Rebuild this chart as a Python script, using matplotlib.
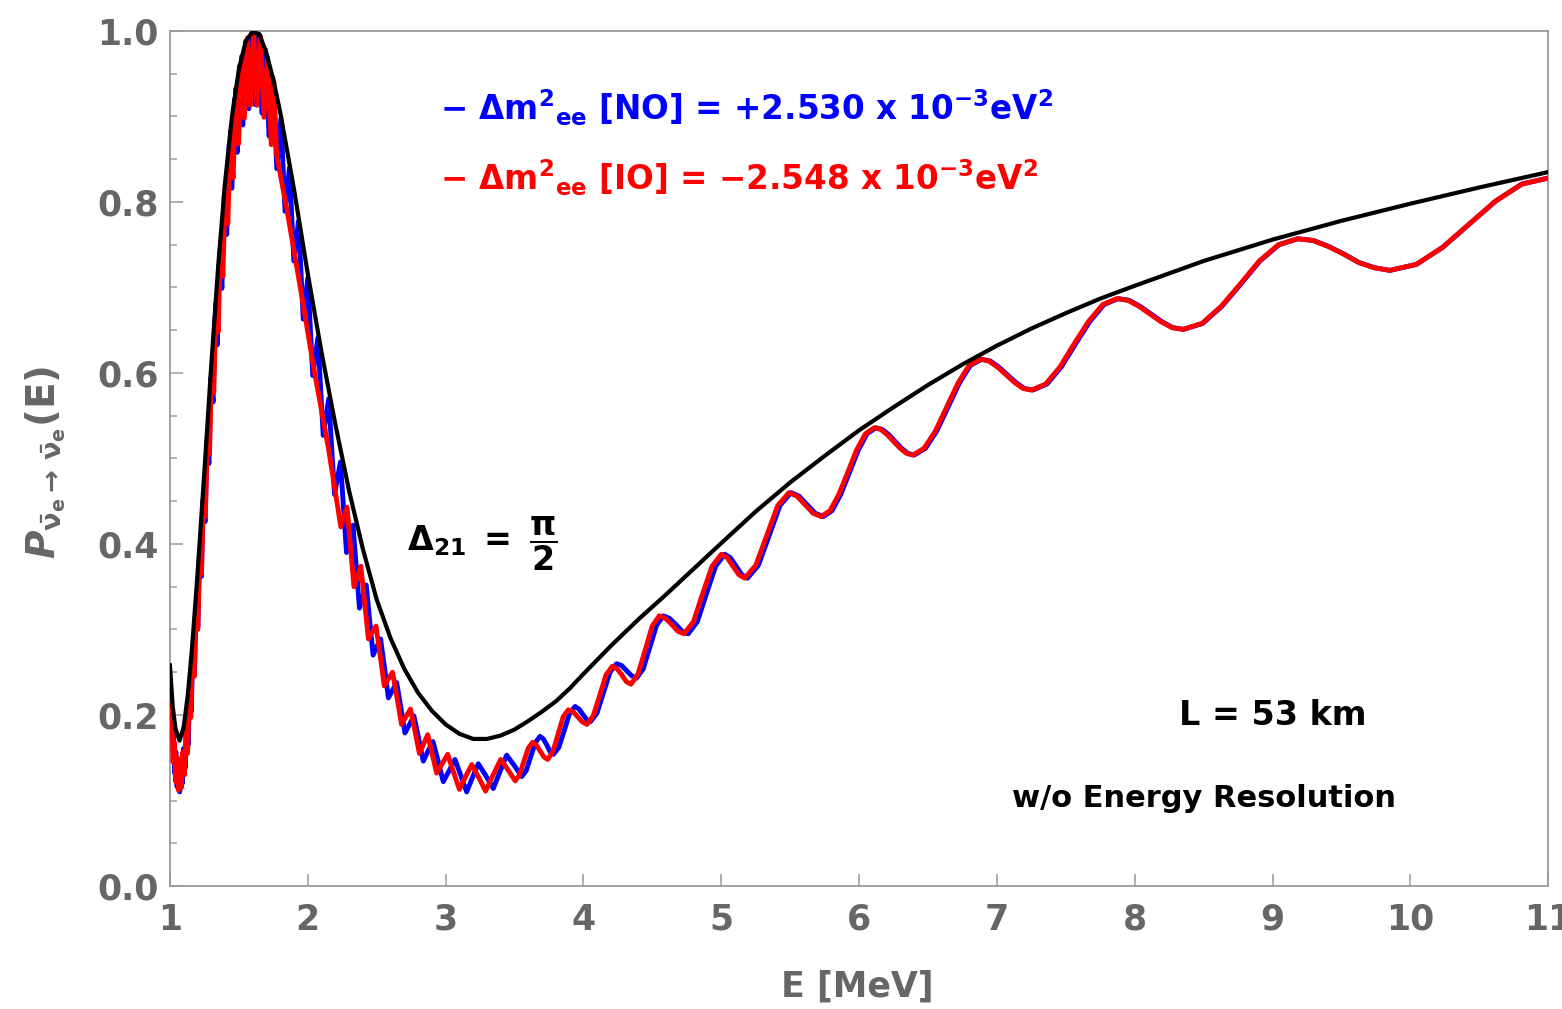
import matplotlib
matplotlib.use("Agg")
import matplotlib.pyplot as plt
from matplotlib.ticker import MultipleLocator

# black curve (no theta13 fast oscillation)
E_black = [1.00, 1.02, 1.04, 1.07, 1.10, 1.13, 1.16, 1.20, 1.25, 1.30, 1.35, 1.40,
           1.45, 1.50, 1.55, 1.60, 1.65, 1.70, 1.75, 1.80, 1.90, 2.00, 2.10, 2.20,
           2.30, 2.40, 2.50, 2.60, 2.70, 2.80, 2.90, 3.00, 3.10, 3.20, 3.30, 3.40,
           3.50, 3.60, 3.70, 3.80, 3.90, 4.00, 4.20, 4.40, 4.60, 4.80, 5.00, 5.25,
           5.50, 5.75, 6.00, 6.25, 6.50, 6.75, 7.00, 7.25, 7.50, 7.75, 8.00, 8.50,
           9.00, 9.50, 10.00, 10.50, 11.00]
P_black = [0.258, 0.210, 0.184, 0.170, 0.186, 0.224, 0.278, 0.365, 0.485, 0.610, 0.725, 0.823,
           0.900, 0.955, 0.988, 0.999, 0.996, 0.974, 0.943, 0.905, 0.815, 0.716, 0.624, 0.540,
           0.462, 0.394, 0.335, 0.290, 0.254, 0.226, 0.205, 0.189, 0.178, 0.172, 0.172, 0.176,
           0.183, 0.193, 0.204, 0.216, 0.231, 0.248, 0.281, 0.312, 0.341, 0.371, 0.401, 0.438,
           0.472, 0.503, 0.533, 0.560, 0.586, 0.610, 0.632, 0.652, 0.670, 0.687, 0.702, 0.731,
           0.756, 0.778, 0.798, 0.817, 0.835]

# inverted ordering (red)
E_io = [1.000, 1.004, 1.013, 1.023, 1.032, 1.042, 1.052, 1.062, 1.072, 1.083, 1.094, 1.105,
        1.116, 1.128, 1.139, 1.151, 1.163, 1.176, 1.189, 1.202, 1.215, 1.229, 1.243, 1.257,
        1.272, 1.287, 1.302, 1.318, 1.334, 1.350, 1.367, 1.384, 1.402, 1.420, 1.439, 1.458,
        1.478, 1.498, 1.519, 1.540, 1.562, 1.584, 1.607, 1.631, 1.656, 1.682, 1.708, 1.735,
        1.755, 1.774, 1.850, 1.950, 2.050, 2.150, 2.240, 2.285, 2.335, 2.385, 2.440, 2.468,
        2.495, 2.525, 2.555, 2.585, 2.615, 2.648, 2.680, 2.712, 2.745, 2.778, 2.810, 2.840,
        2.870, 2.902, 2.935, 2.975, 3.015, 3.058, 3.100, 3.145, 3.190, 3.240, 3.290, 3.345,
        3.400, 3.452, 3.505, 3.536, 3.568, 3.599, 3.630, 3.658, 3.685, 3.713, 3.740, 3.778,
        3.815, 3.853, 3.890, 3.924, 3.958, 3.991, 4.025, 4.071, 4.118, 4.164, 4.210, 4.244,
        4.278, 4.311, 4.345, 4.396, 4.448, 4.499, 4.550, 4.595, 4.640, 4.685, 4.730, 4.798,
        4.865, 4.933, 5.000, 5.043, 5.085, 5.128, 5.170, 5.250, 5.330, 5.410, 5.490, 5.549,
        5.608, 5.666, 5.725, 5.789, 5.853, 5.918, 5.982, 6.046, 6.110, 6.157, 6.203, 6.250,
        6.297, 6.343, 6.390, 6.472, 6.553, 6.635, 6.717, 6.798, 6.880, 6.942, 7.003, 7.065,
        7.127, 7.188, 7.250, 7.353, 7.457, 7.560, 7.663, 7.767, 7.870, 7.950, 8.030, 8.110,
        8.190, 8.270, 8.350, 8.488, 8.627, 8.765, 8.903, 9.042, 9.180, 9.292, 9.403, 9.515,
        9.627, 9.738, 9.850, 10.042, 10.233, 10.425, 10.617, 10.808, 11.000]
P_io = [0.212, 0.190, 0.203, 0.145, 0.168, 0.122, 0.151, 0.112, 0.145, 0.115, 0.157, 0.130,
        0.180, 0.155, 0.222, 0.197, 0.268, 0.245, 0.322, 0.300, 0.386, 0.365, 0.455, 0.432,
        0.528, 0.505, 0.605, 0.577, 0.682, 0.648, 0.755, 0.713, 0.822, 0.775, 0.883, 0.828,
        0.933, 0.868, 0.970, 0.898, 0.992, 0.913, 0.999, 0.913, 0.994, 0.899, 0.969, 0.867,
        0.940, 0.855, 0.790, 0.696, 0.600, 0.512, 0.420, 0.443, 0.350, 0.374, 0.289, 0.297,
        0.304, 0.270, 0.234, 0.242, 0.250, 0.220, 0.189, 0.198, 0.207, 0.181, 0.155, 0.166,
        0.177, 0.155, 0.132, 0.143, 0.154, 0.133, 0.113, 0.128, 0.142, 0.127, 0.111, 0.130,
        0.148, 0.136, 0.123, 0.130, 0.146, 0.161, 0.168, 0.165, 0.158, 0.151, 0.148, 0.157,
        0.177, 0.198, 0.206, 0.204, 0.198, 0.192, 0.189, 0.199, 0.223, 0.247, 0.257, 0.254,
        0.247, 0.239, 0.236, 0.248, 0.276, 0.304, 0.316, 0.313, 0.306, 0.298, 0.295, 0.309,
        0.342, 0.374, 0.388, 0.384, 0.374, 0.364, 0.360, 0.375, 0.410, 0.445, 0.460, 0.456,
        0.446, 0.436, 0.432, 0.439, 0.458, 0.484, 0.510, 0.529, 0.536, 0.534, 0.528, 0.520,
        0.512, 0.506, 0.504, 0.512, 0.532, 0.560, 0.588, 0.609, 0.616, 0.614, 0.607, 0.598,
        0.589, 0.582, 0.580, 0.587, 0.607, 0.634, 0.660, 0.680, 0.687, 0.685, 0.678, 0.669,
        0.660, 0.653, 0.651, 0.658, 0.678, 0.704, 0.731, 0.750, 0.757, 0.755, 0.748, 0.739,
        0.729, 0.723, 0.720, 0.727, 0.747, 0.774, 0.801, 0.821, 0.828]

# normal ordering (blue)
E_no = [1.001, 1.009, 1.017, 1.025, 1.034, 1.043, 1.052, 1.061, 1.0705, 1.080, 1.090, 1.100,
        1.1105, 1.121, 1.132, 1.143, 1.1545, 1.166, 1.178, 1.190, 1.2025, 1.215, 1.228, 1.241,
        1.255, 1.269, 1.283, 1.298, 1.313, 1.328, 1.344, 1.360, 1.377, 1.394, 1.412, 1.430,
        1.449, 1.468, 1.488, 1.508, 1.529, 1.550, 1.572, 1.595, 1.618, 1.642, 1.667, 1.693,
        1.719, 1.747, 1.775, 1.805, 1.835, 1.867, 1.899, 1.933, 1.967, 2.000, 2.036, 2.073,
        2.112, 2.152, 2.194, 2.237, 2.281, 2.328, 2.375, 2.424, 2.474, 2.501, 2.528, 2.557,
        2.585, 2.615, 2.645, 2.675, 2.705, 2.738, 2.770, 2.804, 2.838, 2.873, 2.908, 2.946,
        2.983, 3.026, 3.068, 3.111, 3.153, 3.195, 3.237, 3.292, 3.346, 3.395, 3.443, 3.498,
        3.552, 3.585, 3.619, 3.652, 3.685, 3.709, 3.734, 3.758, 3.782, 3.821, 3.861, 3.900,
        3.939, 3.967, 3.995, 4.022, 4.050, 4.098, 4.145, 4.193, 4.240, 4.276, 4.313, 4.349,
        4.385, 4.434, 4.483, 4.531, 4.580, 4.625, 4.670, 4.715, 4.760, 4.826, 4.893, 4.959,
        5.025, 5.066, 5.108, 5.149, 5.190, 5.269, 5.348, 5.426, 5.505, 5.564, 5.623, 5.681,
        5.740, 5.804, 5.867, 5.931, 5.995, 6.058, 6.122, 6.168, 6.215, 6.261, 6.307, 6.354,
        6.400, 6.482, 6.563, 6.645, 6.727, 6.808, 6.890, 6.952, 7.013, 7.075, 7.137, 7.198,
        7.260, 7.363, 7.467, 7.570, 7.673, 7.777, 7.880, 7.959, 8.038, 8.118, 8.197, 8.276,
        8.355, 8.493, 8.632, 8.770, 8.908, 9.047, 9.185, 9.296, 9.408, 9.519, 9.630, 9.742,
        9.853, 10.044, 10.235, 10.427, 10.618, 10.809, 11.000]
P_no = [0.196, 0.211, 0.157, 0.178, 0.132, 0.157, 0.116, 0.147, 0.110, 0.147, 0.120, 0.161,
        0.138, 0.189, 0.165, 0.226, 0.204, 0.275, 0.251, 0.328, 0.303, 0.386, 0.362, 0.452,
        0.426, 0.521, 0.494, 0.595, 0.566, 0.666, 0.633, 0.741, 0.699, 0.807, 0.762, 0.867,
        0.816, 0.920, 0.858, 0.960, 0.890, 0.988, 0.909, 0.999, 0.914, 0.997, 0.904, 0.978,
        0.877, 0.945, 0.839, 0.898, 0.789, 0.840, 0.731, 0.778, 0.663, 0.711, 0.597, 0.641,
        0.527, 0.570, 0.458, 0.496, 0.390, 0.422, 0.325, 0.352, 0.270, 0.280, 0.289, 0.255,
        0.220, 0.229, 0.238, 0.209, 0.179, 0.189, 0.199, 0.173, 0.146, 0.158, 0.169, 0.146,
        0.122, 0.135, 0.148, 0.129, 0.110, 0.127, 0.143, 0.129, 0.114, 0.134, 0.153, 0.141,
        0.128, 0.135, 0.152, 0.168, 0.175, 0.172, 0.165, 0.157, 0.154, 0.162, 0.182, 0.202,
        0.210, 0.207, 0.201, 0.195, 0.192, 0.202, 0.226, 0.250, 0.260, 0.258, 0.252, 0.246,
        0.243, 0.254, 0.280, 0.305, 0.316, 0.313, 0.306, 0.298, 0.295, 0.309, 0.342, 0.374,
        0.388, 0.384, 0.374, 0.364, 0.360, 0.375, 0.410, 0.445, 0.460, 0.456, 0.446, 0.436,
        0.432, 0.439, 0.458, 0.484, 0.510, 0.529, 0.536, 0.534, 0.528, 0.520, 0.512, 0.506,
        0.504, 0.512, 0.532, 0.560, 0.588, 0.609, 0.616, 0.614, 0.607, 0.598, 0.589, 0.582,
        0.580, 0.587, 0.607, 0.634, 0.660, 0.680, 0.687, 0.685, 0.678, 0.669, 0.660, 0.653,
        0.651, 0.658, 0.678, 0.704, 0.731, 0.750, 0.757, 0.755, 0.748, 0.739, 0.729, 0.723,
        0.720, 0.727, 0.747, 0.774, 0.801, 0.821, 0.828]

x_ticks = [1, 2, 3, 4, 5, 6, 7, 8, 9, 10, 11]
y_ticks = [0.0, 0.2, 0.4, 0.6, 0.8, 1.0]
y_ticklabels = ["0.0", "0.2", "0.4", "0.6", "0.8", "1.0"]

label_no = "− Δm$^{2}$$_{ee}$ [NO] = +2.530 x 10$^{-3}$eV$^{2}$"
label_io = "− Δm$^{2}$$_{ee}$ [IO] = −2.548 x 10$^{-3}$eV$^{2}$"

plt.rcParams["font.family"] = ["DejaVu Sans"]
plt.rcParams["mathtext.fontset"] = "dejavusans"
plt.rcParams["mathtext.default"] = "bf"

fig = plt.figure(figsize=(15.62, 10.09), dpi=100)
ax = fig.add_axes([0.1088, 0.1219, 0.8824, 0.8474])

ax.plot(E_no, P_no, color="#0000ff", lw=3.5, zorder=2, solid_joinstyle="round")
ax.plot(E_io, P_io, color="#ff0000", lw=3.5, zorder=3, solid_joinstyle="round")
ax.plot(E_black, P_black, color="black", lw=3.0, zorder=4, solid_joinstyle="round")

ax.set_xlim(1, 11)
ax.set_ylim(0, 1)
ax.set_xticks(x_ticks)
ax.set_xticklabels([str(t) for t in x_ticks])
ax.set_yticks(y_ticks)
ax.set_yticklabels(y_ticklabels)
ax.yaxis.set_minor_locator(MultipleLocator(0.05))

for s in ax.spines.values():
    s.set_color("#9a9a9a")
    s.set_linewidth(1.3)
ax.tick_params(which="both", direction="in", color="#9a9a9a", width=1.1,
               top=False, right=False)
ax.tick_params(which="major", length=9)
ax.tick_params(which="minor", length=5)
ax.tick_params(axis="y", pad=8)
ax.tick_params(axis="x", pad=12)
for lab in ax.get_xticklabels() + ax.get_yticklabels():
    lab.set_fontsize(25)
    lab.set_fontweight("bold")
    lab.set_color("#666666")

fig.text(857 / 1562, 1 - 987 / 1009, "E [MeV]", fontsize=25, fontweight="bold",
         color="#666666", ha="center", va="center")
fig.text(46 / 1562, 1 - 462 / 1009,
         r"$\mathbfit{P}_{\bar{\nu}_e\rightarrow\,\bar{\nu}_e}(\mathbf{E})$",
         fontsize=28, color="#666666", rotation=90, ha="center", va="center")

ax.text(2.96, 0.91, label_no, color="#0000ff", fontsize=23.5, fontweight="bold",
        ha="left", va="center")
ax.text(2.96, 0.828, label_io, color="#ff0000", fontsize=23.5, fontweight="bold",
        ha="left", va="center")
ax.text(3.27, 0.40, r"$\Delta_{21}\ =\ \dfrac{\pi}{2}$", fontsize=24,
        color="black", ha="center", va="center")
ax.text(9.0, 0.199, "L = 53 km", fontsize=24, fontweight="bold", color="black",
        ha="center", va="center")
ax.text(8.5, 0.102, "w/o Energy Resolution", fontsize=22, fontweight="bold",
        color="black", ha="center", va="center")

fig.savefig("out.png", dpi=100)
